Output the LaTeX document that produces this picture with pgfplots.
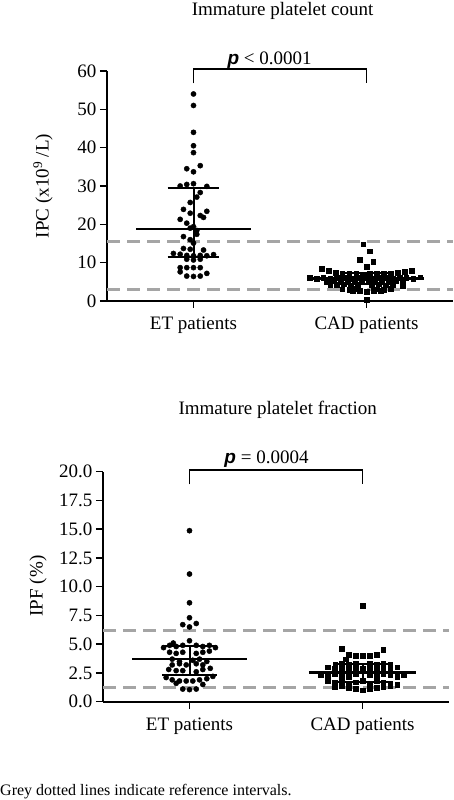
\documentclass[border=0pt]{standalone}
\usepackage{fontspec}
\setmainfont{Liberation Serif}
\newfontfamily\arialfont{Liberation Sans}
\usepackage{pgfplots}
\pgfplotsset{compat=1.18}
\definecolor{refgrey}{RGB}{165,165,165}
\newcommand{\pp}{{\arialfont\bfseries\itshape p}}
\pgfplotsset{
  dotplot/.style={
    scale only axis, width=346pt, height=230pt,
    xmin=-0.5, xmax=1.5,
    axis x line=bottom, axis y line=left,
    axis line style={-, line width=2pt, black},
    xtick={0,1}, xticklabels={ET patients, CAD patients},
    tick style={black, line width=1.6pt},
    major tick length=7pt,
    tick align=outside,
    tick label style={font=\fontsize{19}{21}\selectfont},
    xticklabel style={anchor=base, yshift=-22pt},
    /pgf/number format/assume math mode=true,
    clip=false,
  },
  refline/.style={refgrey, line width=3pt, dash pattern=on 13pt off 7pt, forget plot},
  meanline/.style={black, line width=2.5pt},
  whisk/.style={black, line width=2pt},
  brack/.style={black, line width=1.2pt},
}
\begin{document}
\begin{tikzpicture}[x=1pt,y=1pt]
\useasboundingbox (0,0) rectangle (454,800);
% ---------- top panel ----------
\begin{axis}[dotplot, at={(107pt,499pt)}, anchor=south west,
  ymin=0, ymax=60, ytick={0,10,20,30,40,50,60}]
\addplot[refline] coordinates {(-0.5,15.6) (1.5,15.6)};
\addplot[refline] coordinates {(-0.5,3.0) (1.5,3.0)};
\addplot[only marks, mark=*, mark size=2.6pt, black] coordinates {
(0,54.0)(0,51.0)(0,44.0)(0,40.5)(0,38.7)
(-0.039,34.5)(0.039,35.3)(0,33.7)
(-0.077,30.0)(-0.039,30.4)(0,30.6)(0.077,29.9)
(0.039,28.3)(0.019,27.1)(-0.019,25.7)
(-0.058,23.9)(-0.019,22.9)(0.077,23.4)(0.039,22.3)(0.058,21.8)
(-0.077,21.3)(-0.039,20.3)(0,19.4)(-0.019,19.0)(0.019,18.4)
(-0.058,16.8)(0.019,17.4)(-0.019,16.0)(0,15.1)
(-0.058,13.7)(-0.019,13.5)(0.058,13.3)
(-0.116,12.4)(-0.077,12.2)(-0.039,11.9)(0,11.8)(0.039,11.9)(0.077,11.8)(0.116,12.1)
(-0.039,10.9)(0,10.7)(0.039,10.9)
(-0.077,8.7)(-0.039,8.7)(0,8.7)(0.039,8.7)
(-0.077,7.6)(0.077,7.2)
(-0.039,6.5)(0,6.4)(0.039,6.5)
};
\addplot[only marks, mark=square*, mark size=2.4pt, black] coordinates {
(0.981,14.8)(1.019,13.0)(0.961,10.8)(1.039,10.3)(1,9.0)
(0.74,8.4)(0.78,7.9)(1.26,7.9)(1.22,7.6)
(0.82,7.3)(0.86,7.2)(0.90,7.1)(0.94,7.2)(0.98,7.0)(1.02,7.1)(1.06,7.2)(1.10,7.1)(1.14,7.2)(1.18,7.3)
(0.67,6.0)(0.71,5.9)(0.75,6.1)(0.79,5.9)(0.83,6.0)(0.87,6.1)(0.91,5.9)(0.95,6.0)(0.99,6.1)
(1.03,5.9)(1.07,6.0)(1.11,6.1)(1.15,5.9)(1.19,6.0)(1.23,6.1)(1.27,5.9)(1.31,6.2)
(0.77,5.1)(0.81,5.2)(0.85,5.0)(0.89,5.1)(0.93,5.2)(0.97,5.0)(1.01,5.1)(1.05,5.2)(1.09,5.0)(1.13,5.1)(1.17,5.2)(1.21,5.0)
(0.79,4.3)(0.83,4.2)(0.87,4.4)(0.91,4.1)(0.95,4.3)(1.03,4.2)(1.07,4.4)(1.11,4.1)(1.15,4.3)(1.21,4.0)
(0.86,3.1)(0.90,3.0)(0.94,3.2)(1.06,3.1)(1.10,3.0)(1.14,3.2)
(0.92,2.6)(0.96,2.6)(1,2.5)(1.04,2.6)(1.08,2.6)
(1,0.3)
};
% ET mean and error bars
\addplot[meanline] coordinates {(-0.33,18.8) (0.33,18.8)};
\addplot[whisk] coordinates {(-0.15,29.4) (0.15,29.4)};
\addplot[whisk] coordinates {(-0.15,11.6) (0.15,11.6)};
\addplot[whisk] coordinates {(0,11.6) (0,29.4)};
% CAD mean and error bars
\addplot[meanline] coordinates {(0.67,5.9) (1.33,5.9)};
\addplot[whisk] coordinates {(0.85,7.2) (1.15,7.2)};
\addplot[whisk] coordinates {(0.85,4.5) (1.15,4.5)};
\addplot[whisk] coordinates {(1,4.5) (1,7.2)};
% bracket
\addplot[brack] coordinates {(0,56.8) (0,60.5) (1,60.5) (1,56.8)};
\node[anchor=base, font=\fontsize{19}{21}\selectfont] at (axis cs:0.44,61.8) {\pp\ < 0.0001};
\end{axis}
% ---------- bottom panel ----------
\begin{axis}[dotplot, at={(103pt,98.3pt)}, anchor=south west,
  ymin=0, ymax=20, ytick={0,2.5,5,7.5,10,12.5,15,17.5,20},
  yticklabel style={/pgf/number format/.cd, fixed, fixed zerofill, precision=1}]
\addplot[refline] coordinates {(-0.5,6.2) (1.5,6.2)};
\addplot[refline] coordinates {(-0.5,1.2) (1.5,1.2)};
\addplot[only marks, mark=*, mark size=2.6pt, black] coordinates {
(0,14.87)(0,11.1)(0,8.6)(0,7.3)(-0.039,6.7)(0.039,6.8)(0,6.5)
(0,5.3)(-0.094,5.1)
(-0.15,4.7)(-0.115,4.9)(-0.077,4.8)(-0.039,4.9)(0.039,4.9)(0.077,4.8)(0.115,4.9)(0.15,4.7)
(-0.115,4.3)(-0.077,4.2)(-0.039,4.3)(0.039,4.2)(0.077,4.3)(0.115,4.4)
(-0.10,3.7)(-0.058,3.5)(0.019,3.6)(0.058,3.7)(0.10,3.5)
(-0.10,3.2)(-0.058,3.3)(-0.019,3.2)(0.039,3.3)(0.077,3.2)
(-0.12,2.8)(-0.077,2.7)(-0.039,2.7)(0.039,2.6)(0.077,2.8)(0.12,2.9)
(-0.135,2.1)(-0.10,1.9)(-0.058,1.8)(-0.019,1.8)(0.019,1.8)(0.058,1.9)(0.10,2.0)(0.135,2.2)
(-0.077,1.6)(0.077,1.5)
(-0.039,1.1)(0,1.05)(0.039,1.1)
};
\addplot[only marks, mark=square*, mark size=2.4pt, black] coordinates {
(1,8.35)
(0.882,4.6)(1.120,4.5)
(0.921,4.1)(0.959,4.0)(1,4.0)(1.042,4.0)(1.081,4.1)
(0.902,3.7)
(0.842,3.2)(0.88,3.3)(0.92,3.2)(0.96,3.3)(1.04,3.3)(1.08,3.2)(1.12,3.3)(1.16,3.2)
(0.80,3.0)(0.84,2.9)(0.88,2.9)(0.92,2.8)(0.96,2.9)(1,2.9)(1.04,2.8)(1.08,2.9)(1.12,2.8)(1.16,2.9)(1.20,3.0)
(0.76,2.3)(0.80,2.2)(0.84,2.4)(0.88,2.3)(0.92,2.2)(0.96,2.4)(1.04,2.3)(1.08,2.2)(1.12,2.4)(1.16,2.3)(1.20,2.2)(1.24,2.3)
(0.80,1.8)(0.84,1.7)(0.88,1.8)(0.92,1.6)(0.96,1.7)(1,1.8)(1.04,1.6)(1.08,1.8)(1.12,1.7)(1.16,1.6)(1.20,1.5)
(0.84,1.3)(0.88,1.4)(0.92,1.2)(0.96,1.1)(1,1.0)(1.04,1.1)(1.08,1.2)(1.12,1.3)(1.16,1.4)
};
\addplot[meanline] coordinates {(-0.33,3.7) (0.33,3.7)};
\addplot[whisk] coordinates {(-0.16,4.8) (0.16,4.8)};
\addplot[whisk] coordinates {(-0.16,2.35) (0.16,2.35)};
\addplot[whisk] coordinates {(0,2.35) (0,4.8)};
\addplot[meanline] coordinates {(0.69,2.55) (1.31,2.55)};
\addplot[whisk] coordinates {(0.835,3.3) (1.165,3.3)};
\addplot[whisk] coordinates {(0.835,1.75) (1.165,1.75)};
\addplot[whisk] coordinates {(1,1.75) (1,3.3)};
\addplot[brack] coordinates {(0,18.9) (0,20.14) (1,20.14) (1,18.9)};
\node[anchor=base, font=\fontsize{19}{21}\selectfont] at (axis cs:0.445,20.67) {\pp\ = 0.0004};
\end{axis}
% ---------- texts ----------
\node[anchor=base, font=\fontsize{19}{21}\selectfont] at (282.5,784.5) {Immature platelet count};
\node[anchor=base, font=\fontsize{19}{21}\selectfont] at (277.7,385) {Immature platelet fraction};
\node[rotate=90, font=\fontsize{19}{21}\selectfont] at (43,614) {IPC (x10\textsuperscript{9} /L)};
\node[rotate=90, font=\fontsize{19}{21}\selectfont] at (38,214) {IPF (\%)};
\node[anchor=base west, inner sep=0pt, font=\fontsize{16}{18}\selectfont] at (0,5) {Grey dotted lines indicate reference intervals.};
\end{tikzpicture}
\end{document}
